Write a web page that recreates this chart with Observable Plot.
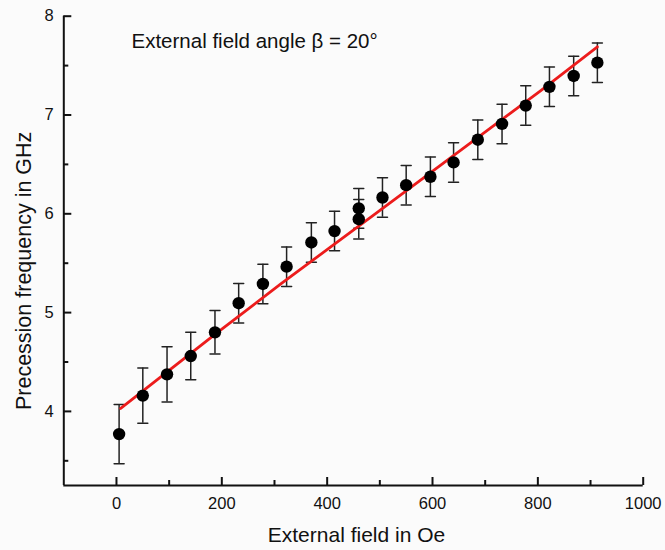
<!DOCTYPE html>
<html>
<head>
<meta charset="utf-8">
<script src="https://cdn.jsdelivr.net/npm/d3@7"></script>
<script src="https://cdn.jsdelivr.net/npm/@observablehq/plot@0.6"></script>
<style>
  html, body { margin: 0; padding: 0; background: #fbfbfb; }
</style>
</head>
<body>
<div id="chart"></div>
<script>
// Measured points (external field in Oe, precession frequency in GHz, error bar half-height)
const fieldOe = [5, 50, 96, 141, 187, 232, 278, 323, 370, 414, 460, 460, 505, 550, 596, 640, 686, 732, 777, 822, 868, 913];
const freqGHz = [3.77, 4.16, 4.375, 4.56, 4.80, 5.095, 5.29, 5.465, 5.71, 5.825, 6.055, 5.945, 6.165, 6.29, 6.375, 6.52, 6.75, 6.91, 7.095, 7.285, 7.395, 7.53];
const errGHz  = [0.30, 0.28, 0.28, 0.24, 0.22, 0.20, 0.20, 0.20, 0.20, 0.20, 0.20, 0.20, 0.20, 0.20, 0.20, 0.20, 0.20, 0.20, 0.20, 0.20, 0.20, 0.20];

// Fitted curve
const fitField = [8, 187, 312, 520, 805, 913];
const fitFreq  = [4.03, 4.78, 5.29, 6.113, 7.245, 7.69];

// Ticks
const xMajor = [0, 200, 400, 600, 800, 1000];
const xMinor = [100, 300, 500, 700, 900];
const yMajor = [4, 5, 6, 7, 8];
const yMinor = [3.5, 4.5, 5.5, 6.5, 7.5];
const xTickLabels = ["0", "200", "400", "600", "800", "1000"];
const yTickLabels = ["4", "5", "6", "7", "8"];

const xDomain = [-100, 1000];
const yDomain = [3.25, 8];

const titleText = "External field angle β = 20°";
const xLabel = "External field in Oe";
const yLabel = "Precession frequency in GHz";

const points = fieldOe.map((x, i) => ({x, y: freqGHz[i], lo: freqGHz[i] - errGHz[i], hi: freqGHz[i] + errGHz[i]}));
const fit = fitField.map((x, i) => ({x, y: fitFreq[i]}));
const xTicks = xMajor.map((v, i) => ({v, label: xTickLabels[i]}));
const yTicks = yMajor.map((v, i) => ({v, label: yTickLabels[i]}));

const capShape = {draw(context, l) { context.moveTo(-l / 2, 0); context.lineTo(l / 2, 0); }};

const FONT = "'Liberation Sans', Arial, Helvetica, sans-serif";
const ink = "#111";

const chart = Plot.plot({
  width: 665,
  height: 550,
  marginLeft: 63.3,
  marginRight: 22.3,
  marginTop: 15.7,
  marginBottom: 65,
  style: {background: "#fbfbfb", fontFamily: FONT, fontSize: "16.5px", color: ink},
  x: {domain: xDomain, label: null, axis: null},
  y: {domain: yDomain, label: null, axis: null},
  marks: [
    // axis lines
    Plot.ruleX([xDomain[0]], {stroke: ink, strokeWidth: 2}),
    Plot.ruleY([yDomain[0]], {stroke: ink, strokeWidth: 2}),
    // inward ticks
    Plot.axisX(xMajor, {tickSize: -8, strokeWidth: 2, stroke: ink, tickFormat: () => ""}),
    Plot.axisX(xMinor, {tickSize: -5, strokeWidth: 2, stroke: ink, tickFormat: () => ""}),
    Plot.axisY(yMajor, {tickSize: -8, strokeWidth: 2, stroke: ink, tickFormat: () => ""}),
    Plot.axisY(yMinor, {tickSize: -5, strokeWidth: 2, stroke: ink, tickFormat: () => ""}),
    // tick labels
    Plot.text(xTicks, {x: "v", text: "label", frameAnchor: "bottom", textAnchor: "middle", lineAnchor: "top", dy: 11.5, fontSize: 16.5, fill: ink}),
    Plot.text(yTicks, {y: "v", text: "label", frameAnchor: "left", textAnchor: "end", lineAnchor: "middle", dx: -10, fontSize: 16.5, fill: ink}),
    // error bars
    Plot.ruleX(points, {x: "x", y1: "lo", y2: "hi", stroke: "#222", strokeWidth: 1.5}),
    Plot.vector(points, {x: "x", y: "hi", length: 10, anchor: "start", shape: capShape, stroke: "#222", strokeWidth: 1.5}),
    Plot.vector(points, {x: "x", y: "lo", length: 10, anchor: "start", shape: capShape, stroke: "#222", strokeWidth: 1.5}),
    // fitted line
    Plot.line(fit, {x: "x", y: "y", stroke: "#ec1c1c", strokeWidth: 2.8}),
    // points
    Plot.dot(points, {x: "x", y: "y", r: 6.2, fill: "#000", stroke: "none"}),
    // title inside plot
    Plot.text([titleText], {frameAnchor: "top-left", textAnchor: "start", lineAnchor: "top", dx: 67.7, dy: 17, fontSize: 20.5, fill: ink}),
    // axis labels
    Plot.text([xLabel], {frameAnchor: "bottom", textAnchor: "middle", lineAnchor: "bottom", dx: 3, dy: 56, fontSize: 21, fill: ink}),
    Plot.text([yLabel], {frameAnchor: "left", textAnchor: "middle", rotate: -90, lineAnchor: "bottom", dx: -33, dy: 20, fontSize: 21.5, fill: ink})
  ]
});

document.getElementById("chart").appendChild(chart);
</script>
</body>
</html>
